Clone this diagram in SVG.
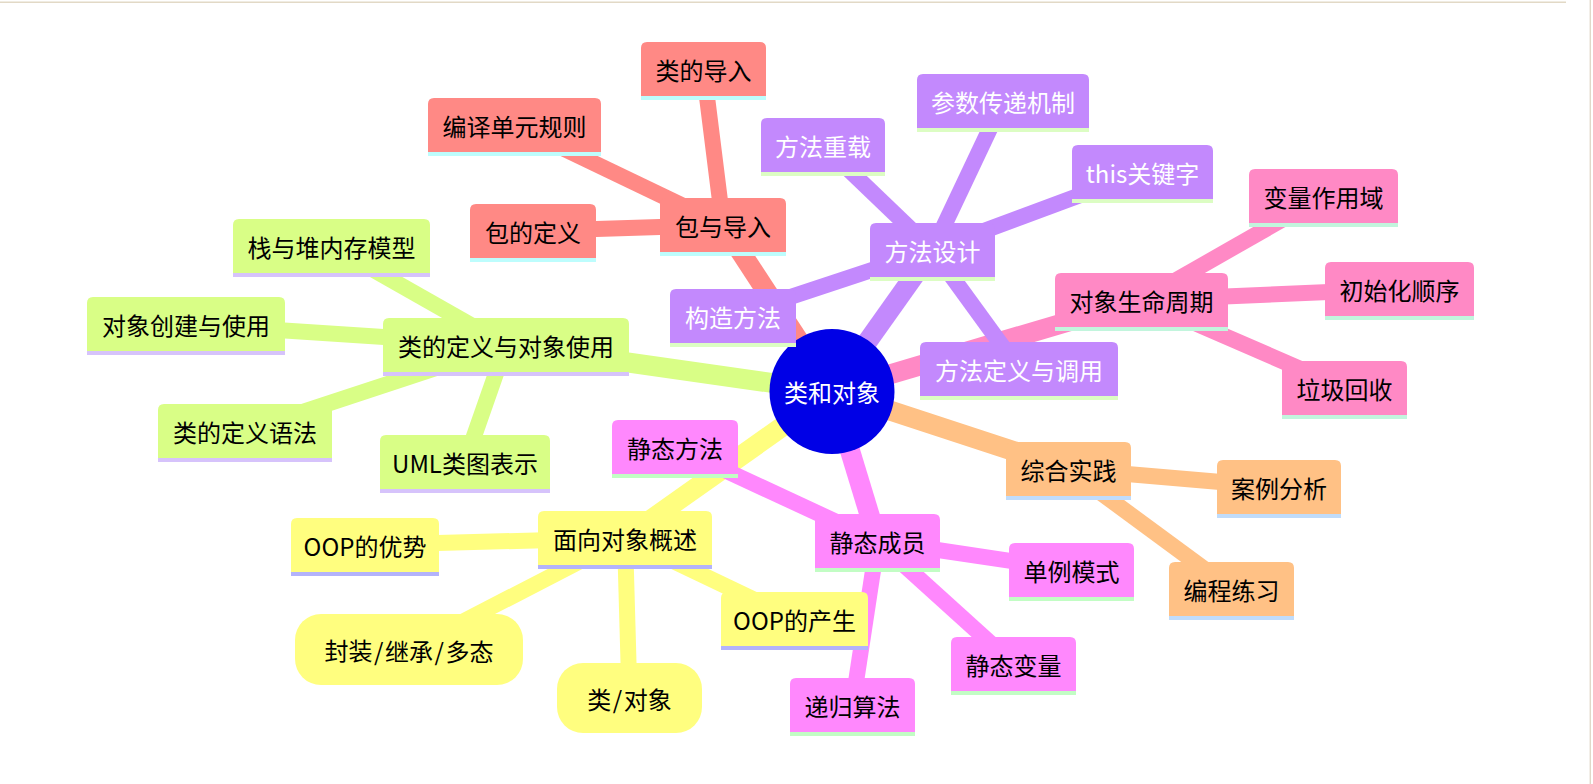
<svg xmlns="http://www.w3.org/2000/svg" width="1593" height="784" viewBox="0 0 1593 784">
<style>
text{font-family:"Noto Sans CJK SC","Noto Sans",sans-serif;font-size:24px;text-anchor:middle;dominant-baseline:central;fill:#000}
.c line{fill:none;stroke-linecap:butt}
.l1{stroke-width:20}
.l2{stroke-width:16}
.sr{stroke:#ff8985}.sp{stroke:#c389fd}.sk{stroke:#ff89c5}.so{stroke:#ffc185}.sm{stroke:#ff88fd}.sy{stroke:#fffe7f}.sg{stroke:#d9fe86}
.r .b{fill:#ff8985}.r .s{fill:#bdfdfd}
.p .b{fill:#c389fd}.p .s{fill:#dcfdc3}.p text{fill:#fff}
.k .b{fill:#ff89c5}.k .s{fill:#c2f5dd}
.o .b{fill:#ffc185}.o .s{fill:#c0dcfb}
.m .b{fill:#ff88fd}.m .s{fill:#c2fdc4}
.y .b{fill:#fffe7f}.y .s{fill:#b3b3fb}
.g .b{fill:#d9fe86}.g .s{fill:#d6c3fb}
</style>
<rect width="1593" height="784" fill="#fff"/>
<line x1="0" y1="2.2" x2="1566" y2="2.2" stroke="#e2d9c6" stroke-width="1.5"/>
<line x1="1590.3" y1="0" x2="1590.3" y2="784" stroke="#e0d8c8" stroke-width="1.4"/>
<g id="connectors" class="c">
<line class="l1 sr" x1="832" y1="391.5" x2="723" y2="225"/>
<line class="l1 sp" x1="832" y1="391.5" x2="932.5" y2="250"/>
<line class="l1 sk" x1="832" y1="391.5" x2="1141.5" y2="300"/>
<line class="l1 so" x1="832" y1="391.5" x2="1068.5" y2="469"/>
<line class="l1 sm" x1="832" y1="391.5" x2="877.5" y2="541"/>
<line class="l1 sy" x1="832" y1="391.5" x2="625" y2="538"/>
<line class="l1 sg" x1="832" y1="391.5" x2="506" y2="345"/>
<line class="l2 sr" x1="723" y1="225" x2="703.5" y2="69"/>
<line class="l2 sr" x1="723" y1="225" x2="514.5" y2="125"/>
<line class="l2 sr" x1="723" y1="225" x2="533" y2="231"/>
<line class="l2 sp" x1="932.5" y1="250" x2="823" y2="145"/>
<line class="l2 sp" x1="932.5" y1="250" x2="1003" y2="101"/>
<line class="l2 sp" x1="932.5" y1="250" x2="1142.5" y2="172"/>
<line class="l2 sp" x1="932.5" y1="250" x2="733" y2="316"/>
<line class="l2 sp" x1="932.5" y1="250" x2="1019" y2="369"/>
<line class="l2 sk" x1="1141.5" y1="300" x2="1323.5" y2="196"/>
<line class="l2 sk" x1="1141.5" y1="300" x2="1399.5" y2="289"/>
<line class="l2 sk" x1="1141.5" y1="300" x2="1344.5" y2="388"/>
<line class="l2 so" x1="1068.5" y1="469" x2="1279" y2="487"/>
<line class="l2 so" x1="1068.5" y1="469" x2="1231.5" y2="589"/>
<line class="l2 sm" x1="877.5" y1="541" x2="675" y2="447"/>
<line class="l2 sm" x1="877.5" y1="541" x2="1071.5" y2="570"/>
<line class="l2 sm" x1="877.5" y1="541" x2="1013.5" y2="664"/>
<line class="l2 sm" x1="877.5" y1="541" x2="852.5" y2="705"/>
<line class="l2 sy" x1="625" y1="538" x2="365" y2="545"/>
<line class="l2 sy" x1="625" y1="538" x2="409" y2="649.5"/>
<line class="l2 sy" x1="625" y1="538" x2="629.5" y2="698"/>
<line class="l2 sy" x1="625" y1="538" x2="794.5" y2="619"/>
<line class="l2 sg" x1="506" y1="345" x2="331.5" y2="246"/>
<line class="l2 sg" x1="506" y1="345" x2="186" y2="324"/>
<line class="l2 sg" x1="506" y1="345" x2="245" y2="431"/>
<line class="l2 sg" x1="506" y1="345" x2="465" y2="462"/>
</g>
<g id="center">
<circle cx="832" cy="391.5" r="62.5" fill="#0000e6"/>
<text x="832" y="391.5" style="fill:#fff">类和对象</text>
</g>
<g id="n-baoyudaoru" class="r"><path class="b" d="M660 252V204Q660 198 666 198H780Q786 198 786 204V252Z"/><rect class="s" x="660" y="252" width="126" height="4"/><text x="723" y="225">包与导入</text></g>
<g id="n-leidedaoru" class="r"><path class="b" d="M641 96V48Q641 42 647 42H760Q766 42 766 48V96Z"/><rect class="s" x="641" y="96" width="125" height="4"/><text x="703.5" y="69">类的导入</text></g>
<g id="n-bianyi" class="r"><path class="b" d="M428 152V104Q428 98 434 98H595Q601 98 601 104V152Z"/><rect class="s" x="428" y="152" width="173" height="4"/><text x="514.5" y="125">编译单元规则</text></g>
<g id="n-baodedingyi" class="r"><path class="b" d="M470 258V210Q470 204 476 204H590Q596 204 596 210V258Z"/><rect class="s" x="470" y="258" width="126" height="4"/><text x="533" y="231">包的定义</text></g>
<g id="n-fangfasheji" class="p"><path class="b" d="M870 277V229Q870 223 876 223H989Q995 223 995 229V277Z"/><rect class="s" x="870" y="277" width="125" height="4"/><text x="932.5" y="250">方法设计</text></g>
<g id="n-fangfachongzai" class="p"><path class="b" d="M761 172V124Q761 118 767 118H879Q885 118 885 124V172Z"/><rect class="s" x="761" y="172" width="124" height="4"/><text x="823" y="145">方法重载</text></g>
<g id="n-canshu" class="p"><path class="b" d="M917 128V80Q917 74 923 74H1083Q1089 74 1089 80V128Z"/><rect class="s" x="917" y="128" width="172" height="4"/><text x="1003" y="101">参数传递机制</text></g>
<g id="n-this" class="p"><path class="b" d="M1072 199V151Q1072 145 1078 145H1207Q1213 145 1213 151V199Z"/><rect class="s" x="1072" y="199" width="141" height="4"/><text x="1142.5" y="172">this关键字</text></g>
<g id="n-gouzao" class="p"><path class="b" d="M670 343V295Q670 289 676 289H790Q796 289 796 295V343Z"/><rect class="s" x="670" y="343" width="126" height="4"/><text x="733" y="316">构造方法</text></g>
<g id="n-dingyidiaoyong" class="p"><path class="b" d="M920 396V348Q920 342 926 342H1112Q1118 342 1118 348V396Z"/><rect class="s" x="920" y="396" width="198" height="4"/><text x="1019" y="369">方法定义与调用</text></g>
<g id="n-shengming" class="k"><path class="b" d="M1055 327V279Q1055 273 1061 273H1222Q1228 273 1228 279V327Z"/><rect class="s" x="1055" y="327" width="173" height="4"/><text x="1141.5" y="300">对象生命周期</text></g>
<g id="n-zuoyongyu" class="k"><path class="b" d="M1249 223V175Q1249 169 1255 169H1392Q1398 169 1398 175V223Z"/><rect class="s" x="1249" y="223" width="149" height="4"/><text x="1323.5" y="196">变量作用域</text></g>
<g id="n-chushihua" class="k"><path class="b" d="M1325 316V268Q1325 262 1331 262H1468Q1474 262 1474 268V316Z"/><rect class="s" x="1325" y="316" width="149" height="4"/><text x="1399.5" y="289">初始化顺序</text></g>
<g id="n-laji" class="k"><path class="b" d="M1282 415V367Q1282 361 1288 361H1401Q1407 361 1407 367V415Z"/><rect class="s" x="1282" y="415" width="125" height="4"/><text x="1344.5" y="388">垃圾回收</text></g>
<g id="n-zonghe" class="o"><path class="b" d="M1006 496V448Q1006 442 1012 442H1125Q1131 442 1131 448V496Z"/><rect class="s" x="1006" y="496" width="125" height="4"/><text x="1068.5" y="469">综合实践</text></g>
<g id="n-anli" class="o"><path class="b" d="M1217 514V466Q1217 460 1223 460H1335Q1341 460 1341 466V514Z"/><rect class="s" x="1217" y="514" width="124" height="4"/><text x="1279" y="487">案例分析</text></g>
<g id="n-biancheng" class="o"><path class="b" d="M1169 616V568Q1169 562 1175 562H1288Q1294 562 1294 568V616Z"/><rect class="s" x="1169" y="616" width="125" height="4"/><text x="1231.5" y="589">编程练习</text></g>
<g id="n-jingtaichengyuan" class="m"><path class="b" d="M815 568V520Q815 514 821 514H934Q940 514 940 520V568Z"/><rect class="s" x="815" y="568" width="125" height="4"/><text x="877.5" y="541">静态成员</text></g>
<g id="n-jingtaifangfa" class="m"><path class="b" d="M612 474V426Q612 420 618 420H732Q738 420 738 426V474Z"/><rect class="s" x="612" y="474" width="126" height="4"/><text x="675" y="447">静态方法</text></g>
<g id="n-danli" class="m"><path class="b" d="M1009 597V549Q1009 543 1015 543H1128Q1134 543 1134 549V597Z"/><rect class="s" x="1009" y="597" width="125" height="4"/><text x="1071.5" y="570">单例模式</text></g>
<g id="n-jingtaibianliang" class="m"><path class="b" d="M951 691V643Q951 637 957 637H1070Q1076 637 1076 643V691Z"/><rect class="s" x="951" y="691" width="125" height="4"/><text x="1013.5" y="664">静态变量</text></g>
<g id="n-digui" class="m"><path class="b" d="M790 732V684Q790 678 796 678H909Q915 678 915 684V732Z"/><rect class="s" x="790" y="732" width="125" height="4"/><text x="852.5" y="705">递归算法</text></g>
<g id="n-mianxiang" class="y"><path class="b" d="M538 565V517Q538 511 544 511H706Q712 511 712 517V565Z"/><rect class="s" x="538" y="565" width="174" height="4"/><text x="625" y="538">面向对象概述</text></g>
<g id="n-youshi" class="y"><path class="b" d="M291 572V524Q291 518 297 518H433Q439 518 439 524V572Z"/><rect class="s" x="291" y="572" width="148" height="4"/><text x="365" y="545">OOP的优势</text></g>
<g id="n-fengzhuang" class="y"><rect class="b" x="295" y="614" width="228" height="71" rx="26"/><text x="409" y="649.5">封装<tspan dx="1.5">/</tspan><tspan dx="1.5">继承</tspan><tspan dx="1.5">/</tspan><tspan dx="1.5">多态</tspan></text></g>
<g id="n-leiduixiang" class="y"><rect class="b" x="557" y="663" width="145" height="70" rx="26"/><text x="629.5" y="698">类<tspan dx="1.5">/</tspan><tspan dx="1.5">对象</tspan></text></g>
<g id="n-chansheng" class="y"><path class="b" d="M721 646V598Q721 592 727 592H862Q868 592 868 598V646Z"/><rect class="s" x="721" y="646" width="147" height="4"/><text x="794.5" y="619">OOP的产生</text></g>
<g id="n-leidingyi" class="g"><path class="b" d="M383 372V324Q383 318 389 318H623Q629 318 629 324V372Z"/><rect class="s" x="383" y="372" width="246" height="4"/><text x="506" y="345">类的定义与对象使用</text></g>
<g id="n-zhandui" class="g"><path class="b" d="M233 273V225Q233 219 239 219H424Q430 219 430 225V273Z"/><rect class="s" x="233" y="273" width="197" height="4"/><text x="331.5" y="246">栈与堆内存模型</text></g>
<g id="n-chuangjian" class="g"><path class="b" d="M87 351V303Q87 297 93 297H279Q285 297 285 303V351Z"/><rect class="s" x="87" y="351" width="198" height="4"/><text x="186" y="324">对象创建与使用</text></g>
<g id="n-yufa" class="g"><path class="b" d="M158 458V410Q158 404 164 404H326Q332 404 332 410V458Z"/><rect class="s" x="158" y="458" width="174" height="4"/><text x="245" y="431">类的定义语法</text></g>
<g id="n-uml" class="g"><path class="b" d="M380 489V441Q380 435 386 435H544Q550 435 550 441V489Z"/><rect class="s" x="380" y="489" width="170" height="4"/><text x="465" y="462">UML类图表示</text></g>
</svg>
